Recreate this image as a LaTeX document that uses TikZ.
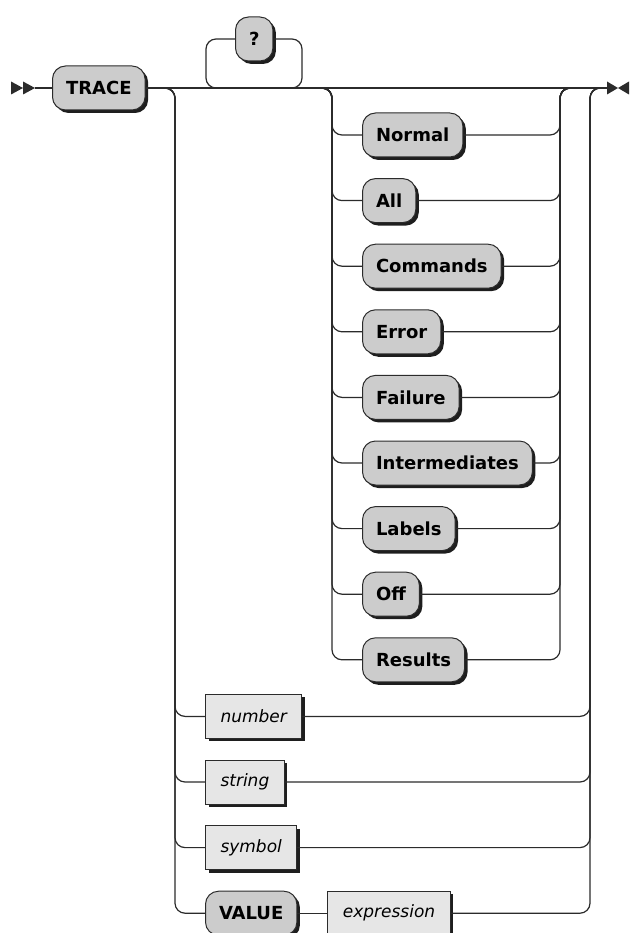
\documentclass[tikz,border=0pt]{standalone}
\usepackage{fontspec}
\setmainfont{DejaVu Sans}
\usepackage{tikz}
\usetikzlibrary{
  positioning, calc, shadows
}
\definecolor{kwfill}{HTML}{CCCCCC}
\definecolor{opfill}{HTML}{E6E6E6}
\definecolor{railgray}{HTML}{2B2B2B}
\definecolor{shadowgray}{HTML}{1E1E1E}
\tikzset{
  % Keyword boxes (rounded)
  keyword/.style={
    rectangle, rounded corners=13pt, minimum height=44pt,
    inner xsep=13.5pt, inner ysep=2pt,
    draw=railgray, fill=kwfill, text=black,
    font=\fontsize{18}{21}\selectfont\bfseries, line width=1pt,
    drop shadow={shadow xshift=3pt, shadow yshift=-3pt, fill=shadowgray, opacity=1},
  },
  % Operand boxes (square)
  operand/.style={
    rectangle, minimum height=44pt,
    inner xsep=15pt, inner ysep=2pt,
    draw=railgray, fill=opfill, text=black,
    font=\fontsize{17}{20}\selectfont\itshape, line width=1pt,
    drop shadow={shadow xshift=3pt, shadow yshift=-3pt, fill=shadowgray, opacity=1},
  },
  % Rail lines
  rail/.style={line width=1.2pt, draw=railgray, rounded corners=10pt},
  railhead/.style={fill=railgray},
}

\begin{document}
\begin{tikzpicture}[x=1pt, y=-1pt]
  \useasboundingbox (0,0) rectangle (629,933);

  % Start and end of the rail
  \coordinate (begin) at (35,88);
  \coordinate (fin) at (607,88);

  % Junctions
  \coordinate (jol) at (165,88);
  \coordinate (jor) at (590,88);
  \coordinate (jil) at (322,88);
  \coordinate (jir) at (560,88);
  \coordinate (loopl) at (206,88);
  \coordinate (loopr) at (302,88);

  % Keyword and optional ?
  \node[keyword, anchor=west] (trace) at (52,88) {TRACE};
  \node[keyword, anchor=west] (qm) at (235,39) {?};

  % Inner choice
  \node[keyword, anchor=west] (normal) at (362,135) {Normal};
  \node[keyword, below=20.6pt of normal.south west, anchor=north west] (all) {All};
  \node[keyword, below=20.6pt of all.south west, anchor=north west] (commands) {Commands};
  \node[keyword, below=20.6pt of commands.south west, anchor=north west] (error) {Error};
  \node[keyword, below=20.6pt of error.south west, anchor=north west] (failure) {Failure};
  \node[keyword, below=20.6pt of failure.south west, anchor=north west] (interm) {Intermediates};
  \node[keyword, below=20.6pt of interm.south west, anchor=north west] (labels) {Labels};
  \node[keyword, below=20.6pt of labels.south west, anchor=north west] (off) {Off};
  \node[keyword, below=20.6pt of off.south west, anchor=north west] (results) {Results};

  % Outer choice
  \node[operand, anchor=west] (number) at (205,716.4) {number};
  \node[operand, below=20.6pt of number.south west, anchor=north west] (string) {string};
  \node[operand, below=20.6pt of string.south west, anchor=north west] (symbol) {symbol};
  \node[keyword, below=20.6pt of symbol.south west, anchor=north west] (value) {VALUE};
  \node[operand, right=30pt of value] (expr) {expression};

  % Main line
  \draw[rail] (begin) -- (trace);
  \draw[rail] (trace) -- (fin);
  \fill[railhead] (begin) -- ++(-12,-6.5) -- ++(0,13) -- cycle;
  \fill[railhead] ($(begin)+(-12,0)$) -- ++(-12,-6.5) -- ++(0,13) -- cycle;
  \fill[railhead] (fin) -- ++(0,-6.5) -- ++(11,6.5) -- ++(-11,6.5) -- cycle;
  \fill[railhead] ($(fin)+(11,0)$) -- ++(11,-6.5) -- ++(0,13) -- cycle;

  % Optional ? loop
  \draw[rail] (qm) -| (loopl) -- (loopr) |- (qm);

  % Inner choice rails
  \draw[rail] (jil) -- ++(10,0) |- (normal);
  \draw[rail] (jil) -- ++(10,0) |- (all);
  \draw[rail] (jil) -- ++(10,0) |- (commands);
  \draw[rail] (jil) -- ++(10,0) |- (error);
  \draw[rail] (jil) -- ++(10,0) |- (failure);
  \draw[rail] (jil) -- ++(10,0) |- (interm);
  \draw[rail] (jil) -- ++(10,0) |- (labels);
  \draw[rail] (jil) -- ++(10,0) |- (off);
  \draw[rail] (jil) -- ++(10,0) |- (results);
  \draw[rail] (normal) -| (jir) -- ++(10,0);
  \draw[rail] (all) -| (jir) -- ++(10,0);
  \draw[rail] (commands) -| (jir) -- ++(10,0);
  \draw[rail] (error) -| (jir) -- ++(10,0);
  \draw[rail] (failure) -| (jir) -- ++(10,0);
  \draw[rail] (interm) -| (jir) -- ++(10,0);
  \draw[rail] (labels) -| (jir) -- ++(10,0);
  \draw[rail] (off) -| (jir) -- ++(10,0);
  \draw[rail] (results) -| (jir) -- ++(10,0);

  % Outer choice rails
  \draw[rail] (jol) -- ++(10,0) |- (number);
  \draw[rail] (jol) -- ++(10,0) |- (string);
  \draw[rail] (jol) -- ++(10,0) |- (symbol);
  \draw[rail] (jol) -- ++(10,0) |- (value);
  \draw[rail] (value) -- (expr);
  \draw[rail] (number) -| (jor) -- ++(10,0);
  \draw[rail] (string) -| (jor) -- ++(10,0);
  \draw[rail] (symbol) -| (jor) -- ++(10,0);
  \draw[rail] (expr) -| (jor) -- ++(10,0);

\end{tikzpicture}
\end{document}
